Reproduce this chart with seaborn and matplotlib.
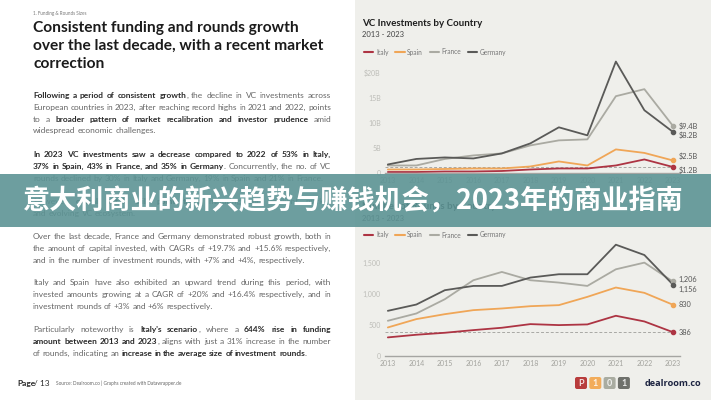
import matplotlib
matplotlib.use('Agg')
import matplotlib.pyplot as plt
from matplotlib.patches import Rectangle, FancyBboxPatch
from matplotlib.lines import Line2D
from matplotlib.transforms import IdentityTransform
import pandas as pd
import seaborn as sns

# ---- data -------------------------------------------------------------
years = list(range(2013, 2024))
countries = ['Italy', 'Spain', 'France', 'Germany']
colors = ['#ad3443', '#f0a657', '#aaaaa2', '#5a5a58']

# VC investments ($B)
invest_italy = [0.2, 0.2, 0.3, 0.3, 0.4, 0.7, 0.9, 0.9, 1.5, 2.7, 1.2]
invest_spain = [0.7, 0.7, 0.8, 0.9, 0.9, 1.3, 2.3, 1.5, 4.7, 4.0, 2.5]
invest_france = [1.5, 1.5, 2.8, 3.5, 3.9, 5.5, 6.5, 6.7, 15.3, 16.7, 9.4]
invest_germany = [1.7, 2.8, 3.1, 2.9, 3.9, 5.9, 9.1, 7.5, 22.2, 12.5, 8.2]
invest_end_labels = ['$1.2B', '$2.5B', '$9.4B', '$8.2B']
invest_ticks = [0, 5, 10, 15, 20]
invest_ticklabels = ['0', '5B', '10B', '15B', '$20B']

# number of rounds
rounds_italy = [301, 344, 376, 419, 457, 516, 500, 511, 651, 559, 386]
rounds_spain = [462, 597, 677, 742, 769, 806, 823, 957, 1108, 1022, 830]
rounds_france = [570, 688, 919, 1226, 1360, 1226, 1188, 1134, 1403, 1511, 1206]
rounds_germany = [731, 833, 1065, 1134, 1134, 1269, 1323, 1323, 1801, 1634, 1156]
rounds_end_labels = ['386', '830', '1,206', '1,156']
rounds_ticks = [0, 500, 1000, 1500]
rounds_ticklabels = ['0', '500', '1,000', '1,500']

W, H = 711, 400


def fx(x):
    return x / W


def fy(y):
    return 1 - y / H


def rect(l, t, r, b):
    return [fx(l), fy(b), (r - l) / W, (b - t) / H]


sns.set_style('white')
plt.rcParams['font.family'] = ['Lato', 'DejaVu Sans']

fig = plt.figure(figsize=(7.11, 4.0), dpi=100)
fig.patch.set_facecolor('white')
fig.add_artist(Rectangle((fx(355), 0), 1 - fx(355), 1, facecolor='#efefeb',
                         edgecolor='none', zorder=-5))


def line_chart(ax, series, ylim, ticks, ticklabels, end_labels, label_dy):
    df = pd.DataFrame({
        'year': years * len(countries),
        'country': [c for c in countries for _ in years],
        'value': [v for s in series for v in s],
    })
    sns.lineplot(data=df, x='year', y='value', hue='country', hue_order=countries,
                 palette=colors, linewidth=1.3, ax=ax, legend=False)
    ax.hlines(series[0][-1], 2012.9, 2023, colors='#a8a8a4', linestyles=(0, (3, 2)),
              linewidth=0.7, zorder=1)
    for s, col, lab, dy in zip(series, colors, end_labels, label_dy):
        ax.scatter([years[-1]], [s[-1]], s=9, color=col, zorder=5)
        ax.annotate(lab, (years[-1], s[-1]), xytext=(6, -dy), textcoords='offset pixels',
                    fontsize=5.3, color='#555555', va='center', ha='left')
    ax.set_xlim(2012.9, 2023.25)
    ax.set_ylim(*ylim)
    ax.set_facecolor('none')
    ax.set_xticks(years)
    ax.set_xticklabels([str(y) for y in years], fontsize=5, color='#a3a39e')
    ax.set_yticks(ticks)
    ax.set_yticklabels(ticklabels, fontsize=5, color='#bdbdb8')
    ax.tick_params(length=0, pad=3)
    ax.set_xlabel('')
    ax.set_ylabel('')
    for sp in ['top', 'right', 'left']:
        ax.spines[sp].set_visible(False)
    ax.spines['bottom'].set_color('#a5a5a2')
    ax.spines['bottom'].set_linewidth(1.0)


def legend_at(x, y):
    handles = [Line2D([], [], color=c, lw=1.5) for c in colors]
    fig.legend(handles, countries, loc='center left', bbox_to_anchor=(fx(x), fy(y)),
               ncol=4, frameon=False, fontsize=4.8, handlelength=1.4, handletextpad=0.4,
               columnspacing=1.0, labelcolor='#777777', borderaxespad=0, borderpad=0)


# ---- top chart --------------------------------------------------------
ax1 = fig.add_axes(rect(385, 173 - 23 * 5.02, 680, 173))
line_chart(ax1, [invest_italy, invest_spain, invest_france, invest_germany],
           (0, 23), invest_ticks, invest_ticklabels, invest_end_labels, [3, -4, 0, 3])
fig.text(fx(362), fy(26), 'VC Investments by Country', fontsize=7, weight='bold',
         color='#1e1e1e', va='baseline')
fig.text(fx(362), fy(37), '2013 - 2023', fontsize=5.5, color='#444444', va='baseline')
legend_at(364, 52)

# ---- bottom chart -----------------------------------------------------
ax2 = fig.add_axes(rect(385, 356 - 1850 * 0.0618, 680, 356))
line_chart(ax2, [rounds_italy, rounds_spain, rounds_france, rounds_germany],
           (0, 1850), rounds_ticks, rounds_ticklabels, rounds_end_labels, [0, 0, -2, 5])
fig.text(fx(362), fy(209), 'Number of Rounds by Country', fontsize=7, weight='bold',
         color='#1e1e1e', va='baseline')
fig.text(fx(362), fy(221), '2013 - 2023', fontsize=5.5, color='#444444', va='baseline')
legend_at(364, 235)

# logos
logo_cols = ['#b83c3c', '#f2ac5a', '#a9aca1', '#6e706b']
logo_chars = ['P', '1', '0', '1']
for i, (c, ch) in enumerate(zip(logo_cols, logo_chars)):
    x0 = 575 + i * 14.3
    fig.add_artist(FancyBboxPatch((x0, H - 389), 12, 12,
                                  boxstyle='round,pad=0,rounding_size=2',
                                  facecolor=c, edgecolor='none',
                                  transform=IdentityTransform()))
    fig.text(fx(x0 + 6), fy(383), ch, fontsize=6.5, weight='bold', color='white',
             alpha=0.85, ha='center', va='center')
fig.text(fx(645), fy(383), 'dealroom.co', fontsize=6.6, weight='bold',
         color='#1c2340', va='center', family='Open Sans')

# ---- left text page ---------------------------------------------------
renderer = fig.canvas.get_renderer()


def rich_line(runs, x, y, justify, size=6.0, right=331):
    words = [[]]
    for txt, bold in runs:
        for i, part in enumerate(txt.split(' ')):
            if i > 0:
                words.append([])
            if part:
                words[-1].append((part, bold))
    words = [w for w in words if w]
    placed = []
    for w in words:
        frags = []
        for part, bold in w:
            t = fig.text(0, 0, part, fontsize=size, weight='bold' if bold else 'normal',
                         color='#2a2a2a' if bold else '#666666', va='baseline')
            frags.append((t, t.get_window_extent(renderer).width))
        placed.append(frags)
    widths = [sum(wd for _, wd in f) for f in placed]
    gap = size * 100 / 72 * 0.25
    if justify and len(placed) > 1:
        gap = (right - x - sum(widths)) / (len(placed) - 1)
    cx = x
    for frags in placed:
        for t, wd in frags:
            t.set_position((fx(cx), fy(y)))
            cx += wd
        cx += gap


def paragraph(lines, y0, step=11.8):
    for i, runs in enumerate(lines):
        rich_line(runs, 33, y0 + i * step, justify=(i < len(lines) - 1))


fig.text(fx(33), fy(15), '1. Funding & Rounds Sizes', fontsize=3.3, color='#777777',
         va='baseline')
for i, line in enumerate(['Consistent funding and rounds growth',
                          'over the last decade, with a recent market',
                          'correction']):
    fig.text(fx(33), fy(32 + i * 18), line, fontsize=11.2, weight='bold',
             color='#1b1b1b', va='baseline')

paragraph([
    [('Following a period of consistent growth', True),
     (', the decline in VC investments across', False)],
    [('European countries in 2023, after reaching record highs in 2021 and 2022, points', False)],
    [('to a ', False), ('broader pattern of market recalibration and investor prudence', True),
     (' amid', False)],
    [('widespread economic challenges.', False)],
], 98)

paragraph([
    [('In 2023 VC investments saw a decrease compared to 2022 of 53% in Italy,', True)],
    [('37% in Spain, 43% in France, and 35% in Germany', True),
     ('. Concurrently, the no. of VC', False)],
    [('rounds declined by 30% in Italy and Germany, 19% in Spain and 21% in France.', False)],
], 157)

paragraph([
    [('However, ', False), ('overall totals still point to a', True),
     (' maturing and resilient market', False)],
    [('and evolving VC ecosystem.', False)],
], 204)

paragraph([
    [('Over the last decade, France and Germany demonstrated robust growth, both in', False)],
    [('the amount of capital invested, with CAGRs of +19.7% and +15.6% respectively,', False)],
    [('and in the number of investment rounds, with +7% and +4%, respectively.', False)],
], 239)

paragraph([
    [('Italy and Spain have also exhibited an upward trend during this period, with', False)],
    [('invested amounts growing at a CAGR of +20% and +16.4% respectively, and in', False)],
    [('investment rounds of +3% and +6% respectively.', False)],
], 285)

paragraph([
    [('Particularly noteworthy is ', False), ("Italy's scenario", True),
     (', where a ', False), ('644% rise in funding', True)],
    [('amount between 2013 and 2023', True),
     (', aligns with just a 31% increase in the number', False)],
    [('of rounds, indicating an ', False),
     ('increase in the average size of investment rounds', True), ('.', False)],
], 332)

fig.text(fx(17), fy(386), 'Page', fontsize=6, weight='bold', color='#2a2a2a', va='baseline')
fig.text(fx(34), fy(386), '/ 13', fontsize=6, color='#2a2a2a', va='baseline')
fig.text(fx(56), fy(385.5), 'Source: Dealroom.co | Graphs created with Datawrapper.de',
         fontsize=3.4, color='#666666', va='baseline')

# ---- banner -----------------------------------------------------------
fig.add_artist(Rectangle((0, fy(227)), 1, (227 - 174) / H, facecolor='#5d9495',
                         edgecolor='none', alpha=0.9, zorder=10))
fig.text(0.497, fy(201), '意大利商业的新兴趋势与赚钱机会，2023年的商业指南',
         fontsize=19.5, weight='bold', color='white', ha='center', va='center',
         family=['Noto Sans CJK SC', 'DejaVu Sans'], zorder=11)

fig.savefig('out.png', dpi=100)
